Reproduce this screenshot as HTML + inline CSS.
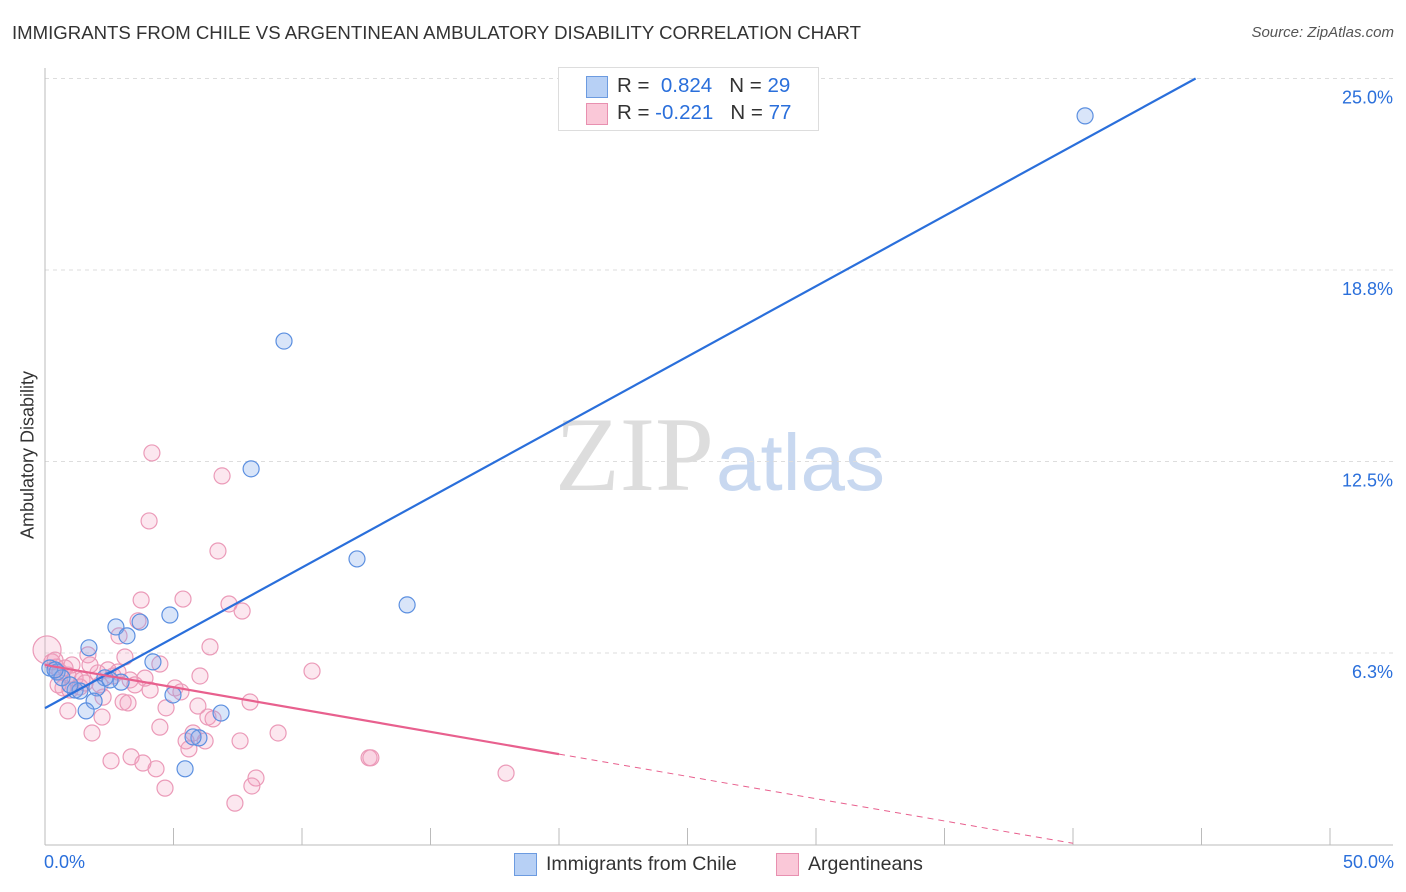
<!DOCTYPE html>
<html><head><meta charset="utf-8">
<style>
body{margin:0;background:#fff;font-family:"Liberation Sans",sans-serif;}
#wrap{position:relative;width:1406px;height:892px;overflow:hidden;}
.t{position:absolute;white-space:nowrap;}
</style></head>
<body>
<div id="wrap">
<div class="t" style="left:12px;top:22px;font-size:18.6px;color:#333;">IMMIGRANTS FROM CHILE VS ARGENTINEAN AMBULATORY DISABILITY CORRELATION CHART</div>
<div class="t" style="right:12px;top:24px;font-size:15px;color:#555;font-style:italic;">Source: ZipAtlas.com</div>
<svg id="svg" width="1406" height="892" style="position:absolute;left:0;top:0">
<text x="714" y="490" text-anchor="end" font-family="Liberation Serif,serif" font-size="106" fill="#ddd">ZIP</text>
<text x="716" y="490" font-family="Liberation Sans,sans-serif" font-size="80" fill="#c8d8f0">atlas</text>
</svg>
<div style="position:absolute;left:558px;top:67px;width:259px;height:62px;border:1px solid #ddd;background:#fff;">
 <div style="position:absolute;left:27px;top:8px;width:20px;height:20px;background:#b7d0f5;border:1px solid #6c9be0;"></div>
 <div class="t" style="left:58px;top:6px;font-size:20.5px;color:#333;">R = &nbsp;<span style="color:#2a6fdb">0.824</span> &nbsp;&nbsp;N = <span style="color:#2a6fdb">29</span></div>
 <div style="position:absolute;left:27px;top:35px;width:20px;height:20px;background:#fac8d8;border:1px solid #e890b0;"></div>
 <div class="t" style="left:58px;top:33px;font-size:20.5px;color:#333;">R = <span style="color:#2a6fdb">-0.221</span> &nbsp;&nbsp;N = <span style="color:#2a6fdb">77</span></div>
</div>
<div class="t" style="top:455px;font-size:18px;color:#333;transform:translate(-50%,-50%) rotate(-90deg);transform-origin:center;left:28px;">Ambulatory Disability</div>
<div class="t" style="left:44px;top:852px;font-size:18px;color:#2a6fdb;">0.0%</div>
<div class="t" style="right:12px;top:852px;font-size:18px;color:#2a6fdb;">50.0%</div>
<div style="position:absolute;left:514px;top:853px;width:21px;height:21px;background:#b7d0f5;border:1px solid #6c9be0;"></div>
<div class="t" style="left:546px;top:853px;font-size:19.5px;color:#333;">Immigrants from Chile</div>
<div style="position:absolute;left:776px;top:853px;width:21px;height:21px;background:#fac8d8;border:1px solid #e890b0;"></div>
<div class="t" style="left:808px;top:853px;font-size:19.5px;color:#333;">Argentineans</div>
</div>
<script>
const yTicks=[25,18.75,12.5,6.25];
const yTickLabels=["25.0%","18.8%","12.5%","6.3%"];
const xTicks=[0,5,10,15,20,25,30,35,40,45,50];
const blueX=[40.47,9.30,8.02,12.14,14.09,4.86,3.70,2.76,3.19,1.71,4.20,0.19,0.47,0.66,2.33,2.96,2.02,1.17,1.36,4.98,1.91,1.60,6.85,5.99,5.76,5.45,0.39,2.53,0.97];
const blueY=[23.78,16.43,12.26,9.32,7.82,7.49,7.26,7.10,6.81,6.42,5.96,5.76,5.63,5.44,5.44,5.30,5.11,5.04,5.01,4.88,4.68,4.36,4.29,3.48,3.51,2.47,5.70,5.37,5.21];
const pinkX=[4.16,6.89,4.05,6.73,3.74,5.37,7.16,7.67,3.62,2.88,6.42,1.67,3.11,4.47,0.08,0.27,0.43,0.58,0.89,1.17,1.44,2.06,2.45,2.65,3.31,3.89,5.06,5.29,6.03,10.39,0.70,0.97,1.36,2.26,3.04,3.23,4.71,5.95,7.98,0.89,2.22,6.34,6.54,4.47,1.83,9.07,5.76,5.49,6.23,7.59,5.60,3.35,2.57,3.81,4.32,12.61,12.68,17.94,8.21,8.05,4.67,7.39,0.39,0.78,1.75,2.84,3.50,4.09,2.14,0.51,1.05,1.56];
const pinkY=[12.78,12.03,10.56,9.58,7.98,8.01,7.85,7.62,7.30,6.81,6.45,6.19,6.12,5.89,6.35,5.96,5.79,5.63,5.53,5.43,5.37,5.60,5.70,5.50,5.37,5.43,5.11,4.98,5.50,5.66,5.11,5.04,5.14,4.81,4.65,4.62,4.46,4.52,4.65,4.36,4.16,4.16,4.10,3.83,3.64,3.64,3.64,3.38,3.38,3.38,3.12,2.86,2.73,2.66,2.47,2.83,2.83,2.33,2.17,1.91,1.84,1.35,6.02,5.76,5.86,5.63,5.21,5.04,5.21,5.21,5.86,5.27];
const blueLine=[4.45,0.459];
const pinkLine=[5.86,-0.1455];
const sx=v=>45+v*25.7, sy=v=>844.5-v*30.64;
const svg=document.getElementById('svg');
const NS='http://www.w3.org/2000/svg';
function mk(tag,attrs){const e=document.createElementNS(NS,tag);for(const k in attrs)e.setAttribute(k,attrs[k]);svg.appendChild(e);return e;}
yTicks.forEach((t,i)=>{
 let g=mk('line',{x1:45,x2:1393,y1:sy(t),y2:sy(t),stroke:'#ddd','stroke-dasharray':'4,4'});
 
 
 let l=mk('text',{x:1393,y:sy(t)+25,'text-anchor':'end','font-size':18,fill:'#2a6fdb'});
 l.textContent=yTickLabels[i];
 
 
});
let ax=mk('line',{x1:45,x2:45,y1:68,y2:845,stroke:'#bbb'});


let bx=mk('line',{x1:45,x2:1393,y1:845,y2:845,stroke:'#bbb'});


xTicks.forEach(t=>{
 let k=mk('line',{x1:sx(t),x2:sx(t),y1:828,y2:845,stroke:'#bbb'});
 
 
});
pinkX.forEach((x,i)=>{
 let c=mk('circle',{cx:sx(x),cy:sy(pinkY[i]),r:i==14?14:8,fill:'rgba(245,160,190,0.25)',stroke:'#eb9ab8','stroke-width':1.2});
 
 
});
blueX.forEach((x,i)=>{
 let c=mk('circle',{cx:sx(x),cy:sy(blueY[i]),r:8,fill:'rgba(130,170,235,0.3)',stroke:'#5b8fe0','stroke-width':1.2});
 
 
});
let xe=(25-blueLine[0])/blueLine[1];
let bl=mk('line',{x1:sx(0),y1:sy(blueLine[0]),x2:sx(xe),y2:sy(25),stroke:'#2a6fdb','stroke-width':2.2});


let pl=mk('line',{x1:sx(0),y1:sy(pinkLine[0]),x2:sx(20),y2:sy(pinkLine[0]+pinkLine[1]*20),stroke:'#e8608e','stroke-width':2.2});


let pd=mk('line',{x1:sx(20),y1:sy(pinkLine[0]+pinkLine[1]*20),x2:sx(40),y2:sy(pinkLine[0]+pinkLine[1]*40),stroke:'#e8608e','stroke-width':1,'stroke-dasharray':'6,5'});


</script>
</body></html>
